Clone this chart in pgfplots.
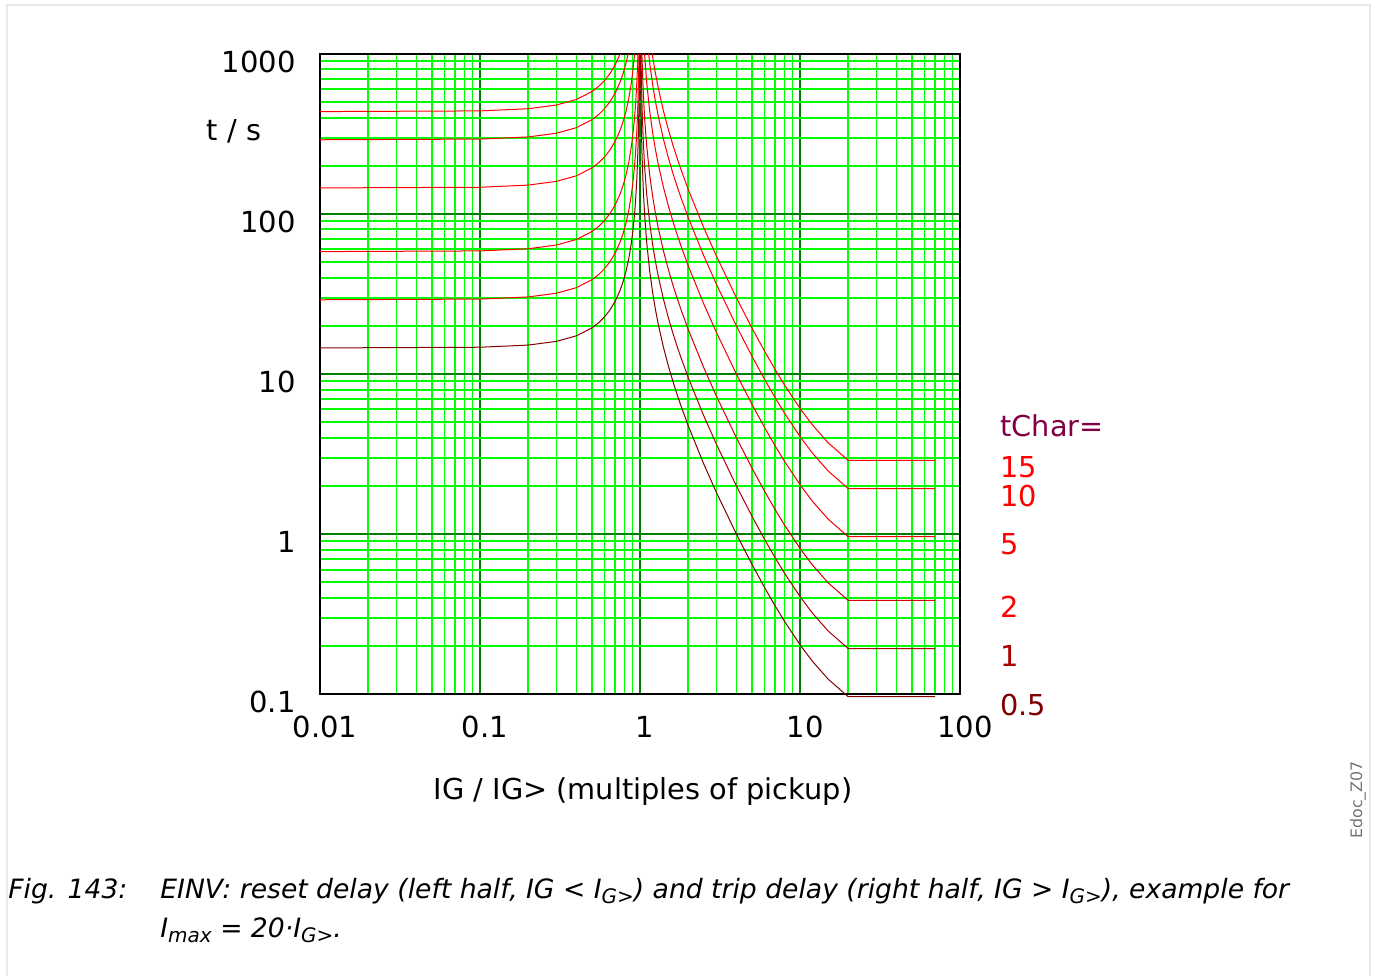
\documentclass[border=0pt]{standalone}
\usepackage{fontspec}
\setmainfont{DejaVu Sans}
\usepackage{pgfplots}
\pgfplotsset{compat=1.18}
\definecolor{c05}{RGB}{128,0,0}
\definecolor{c1}{RGB}{170,0,0}
\definecolor{c2}{RGB}{210,0,0}
\definecolor{c5}{RGB}{240,0,0}
\definecolor{cR}{RGB}{255,0,0}
\definecolor{tcol}{RGB}{128,0,72}
\definecolor{gridmaj}{RGB}{0,128,0}
\definecolor{gridmin}{RGB}{0,255,0}
\newcommand{\sub}[1]{\raisebox{-0.35ex}{\fontsize{10}{11}\selectfont #1}}
\begin{document}
\begin{tikzpicture}[x=1pt,y=1pt]
\path[use as bounding box] (0,0) rectangle (687.5,488);
\draw[black!9,line width=1pt] (3.25,0) -- (3.25,485.25) -- (684.75,485.25) -- (684.75,0);
\begin{axis}[
  at={(160pt,141pt)}, anchor=south west,
  scale only axis, width=320pt, height=320pt,
  xmode=log, ymode=log,
  xmin=0.01, xmax=100, ymin=0.1, ymax=1000,
  clip=false,
  xtick={0.01,0.1,1,10,100},
  xticklabels={0.01,0.1,1,10,100},
  ytick={0.1,1,10,100,1000},
  yticklabels={0.1,1,10,100,1000},
  minor xtick={0.02,0.03,0.04,0.05,0.06,0.07,0.08,0.09,0.2,0.3,0.4,0.5,0.6,0.7,0.8,0.9,2,3,4,5,6,7,8,9,20,30,40,50,60,70,80,90},
  minor ytick={0.2,0.3,0.4,0.5,0.6,0.7,0.8,0.9,2,3,4,5,6,7,8,9,20,30,40,50,60,70,80,90,200,300,400,500,600,700,800,900},
  major tick length=0pt, minor tick length=0pt,
  xmajorgrids, ymajorgrids, xminorgrids, yminorgrids,
  every axis grid/.style={},
  every minor grid/.style={draw=gridmin, line width=0.75pt},
  every major grid/.style={draw=gridmaj, line width=0.6pt},
  minor y grid style={draw=gridmin, line width=1pt},
  minor x grid style={draw=gridmin, line width=0.8pt},
  axis line style={black, line width=0.6pt},
  xticklabel style={font=\fontsize{14.5}{17}\selectfont, inner sep=0pt, anchor=center, yshift=-16.5pt, xshift=2.5pt},
  yticklabel style={font=\fontsize{14.5}{17}\selectfont, inner sep=0pt, anchor=east, xshift=-12pt, yshift=-4pt},
  every axis plot/.append style={line width=0.5pt, mark=none},
]
% reset curves
\addplot[c05] coordinates {(0.01,14.55)(0.1,14.70)(0.2,15.16)(0.3,15.99)(0.4,17.32)(0.5,19.40)(0.55,20.86)(0.6,22.73)(0.65,25.20)(0.7,28.53)(0.75,33.26)(0.78,37.16)(0.8,40.42)(0.82,44.42)(0.85,52.43)(0.88,64.50)(0.9,76.58)(0.92,94.73)(0.93,107.7)(0.94,125.0)(0.95,149.3)(0.96,185.6)(0.97,246.2)(0.98,367.4)(0.985,488.7)(0.99,731.2)(0.9927,1000)};
\addplot[cR] coordinates {(0.01,29.10)(0.1,29.39)(0.2,30.31)(0.3,31.98)(0.4,34.64)(0.5,38.80)(0.55,41.72)(0.6,45.47)(0.65,50.39)(0.7,57.06)(0.75,66.51)(0.78,74.31)(0.8,80.83)(0.82,88.83)(0.85,104.86)(0.88,128.99)(0.9,153.16)(0.92,189.45)(0.93,215.4)(0.94,250.0)(0.95,298.5)(0.96,371.2)(0.97,492.4)(0.98,734.8)(0.985,977.3)(0.98534,1000)};
\addplot[cR] coordinates {(0.01,58.2)(0.1,58.78)(0.2,60.62)(0.3,63.96)(0.4,69.29)(0.5,77.6)(0.55,83.44)(0.6,90.94)(0.65,100.78)(0.7,114.12)(0.75,133.02)(0.78,148.62)(0.8,161.66)(0.82,177.66)(0.85,209.72)(0.88,257.98)(0.9,306.32)(0.92,378.9)(0.93,430.8)(0.94,500.0)(0.95,597.0)(0.96,742.4)(0.97,984.8)(0.97046,1000)};
\addplot[cR] coordinates {(0.01,145.5)(0.1,146.95)(0.2,151.56)(0.3,159.9)(0.4,173.2)(0.5,194.0)(0.55,208.6)(0.6,227.35)(0.65,251.95)(0.7,285.3)(0.75,332.55)(0.78,371.55)(0.8,404.15)(0.82,444.15)(0.85,524.3)(0.88,644.95)(0.9,765.8)(0.92,947.25)(0.92439,1000)};
\addplot[cR] coordinates {(0.01,291.0)(0.1,293.9)(0.2,303.1)(0.3,319.8)(0.4,346.4)(0.5,388.0)(0.55,417.2)(0.6,454.7)(0.65,503.9)(0.7,570.6)(0.75,665.1)(0.78,743.1)(0.8,808.3)(0.82,888.3)(0.84202,1000)};
\addplot[cR] coordinates {(0.01,436.5)(0.1,440.9)(0.2,454.7)(0.3,479.7)(0.4,519.6)(0.5,582.0)(0.55,625.8)(0.6,682.0)(0.65,755.9)(0.7,855.9)(0.75,997.7)(0.75067,1000)};
% trip curves
\addplot[c05] coordinates {(1.007026,1000)(1.01,701.56)(1.02,349.07)(1.03,231.59)(1.05,137.62)(1.07,97.37)(1.1,67.21)(1.15,43.78)(1.2,32.11)(1.25,25.13)(1.3,20.50)(1.4,14.75)(1.5,11.34)(1.6,9.100)(1.7,7.522)(1.8,6.356)(2,4.761)(2.5,2.747)(3,1.823)(4,1.0009)(5,0.6484)(6,0.4637)(7,0.3546)(8,0.2847)(10,0.2033)(12,0.1595)(15,0.1238)(20,0.09619)(70,0.09619)};
\addplot[c1] coordinates {(1.014003,1000)(1.02,698.14)(1.03,463.17)(1.05,275.24)(1.07,194.74)(1.1,134.41)(1.15,87.564)(1.2,64.213)(1.25,50.255)(1.3,40.992)(1.4,29.497)(1.5,22.682)(1.6,18.199)(1.7,15.043)(1.8,12.711)(2,9.5217)(2.5,5.4931)(3,3.6467)(4,2.0017)(5,1.2967)(6,0.92741)(7,0.7092)(8,0.56932)(10,0.40655)(12,0.31890)(15,0.24759)(20,0.19238)(70,0.19238)};
\addplot[c2] coordinates {(1.02782,1000)(1.03,926.34)(1.05,550.48)(1.07,389.48)(1.1,268.82)(1.15,175.13)(1.2,128.43)(1.25,100.51)(1.3,81.98)(1.4,58.99)(1.5,45.36)(1.6,36.40)(1.7,30.09)(1.8,25.42)(2,19.04)(2.5,10.986)(3,7.293)(4,4.003)(5,2.593)(6,1.855)(7,1.418)(8,1.1386)(10,0.8131)(12,0.6378)(15,0.4952)(20,0.3848)(70,0.3848)};
\addplot[c5] coordinates {(1.068216,1000)(1.07,973.7)(1.1,672.05)(1.15,437.82)(1.2,321.07)(1.25,251.28)(1.3,204.96)(1.4,147.49)(1.5,113.41)(1.6,91.00)(1.7,75.22)(1.8,63.56)(2,47.61)(2.5,27.47)(3,18.23)(4,10.009)(5,6.484)(6,4.637)(7,3.546)(8,2.847)(10,2.0328)(12,1.5945)(15,1.2380)(20,0.9619)(70,0.9619)};
\addplot[cR] coordinates {(1.132404,1000)(1.15,875.64)(1.2,642.13)(1.25,502.55)(1.3,409.92)(1.4,294.97)(1.5,226.82)(1.6,181.99)(1.7,150.43)(1.8,127.11)(2,95.22)(2.5,54.93)(3,36.47)(4,20.017)(5,12.967)(6,9.274)(7,7.092)(8,5.693)(10,4.0655)(12,3.189)(15,2.4759)(20,1.9238)(70,1.9238)};
\addplot[cR] coordinates {(1.193206,1000)(1.2,963.2)(1.25,753.8)(1.3,614.9)(1.4,442.5)(1.5,340.2)(1.6,273.0)(1.7,225.6)(1.8,190.7)(2,142.83)(2.5,82.40)(3,54.70)(4,30.03)(5,19.45)(6,13.911)(7,10.638)(8,8.540)(10,6.098)(12,4.784)(15,3.714)(20,2.886)(70,2.886)};
\end{axis}
\begin{scope}[every node/.style={inner sep=0pt}]
\node[font=\fontsize{14.4}{17}\selectfont] at (117,422.5) {t / s};
\node[font=\fontsize{14.4}{17}\selectfont] at (321.5,92) {IG / IG> (multiples of pickup)};
\node[font=\fontsize{14.4}{17}\selectfont, anchor=west, text=tcol] at (500,275) {tChar=};
\node[font=\fontsize{14.4}{17}\selectfont, anchor=west, text=cR] at (500,254.5) {15};
\node[font=\fontsize{14.4}{17}\selectfont, anchor=west, text=cR] at (500,240) {10};
\node[font=\fontsize{14.4}{17}\selectfont, anchor=west, text=cR] at (500,216) {5};
\node[font=\fontsize{14.4}{17}\selectfont, anchor=west, text=cR] at (500,184.5) {2};
\node[font=\fontsize{14.4}{17}\selectfont, anchor=west, text=c1] at (500,160) {1};
\node[font=\fontsize{14.4}{17}\selectfont, anchor=west, text=c05] at (500,135.5) {0.5};
\node[font=\fontsize{13.3}{16}\selectfont\itshape, anchor=west] at (4,42.5) {Fig. 143:};
\node[font=\fontsize{13.3}{16}\selectfont\itshape, anchor=west] at (80,42.5) {EINV: reset delay (left half, IG < I\sub{G>}) and trip delay (right half, IG > I\sub{G>}), example for};
\node[font=\fontsize{13.3}{16}\selectfont\itshape, anchor=west] at (80,23) {I\sub{max} = 20·I\sub{G>}.};
\node[font=\fontsize{7.9}{9}\selectfont, text=black!55, rotate=90] at (679,88) {Edoc\_Z07};
\end{scope}
\end{tikzpicture}
\end{document}
